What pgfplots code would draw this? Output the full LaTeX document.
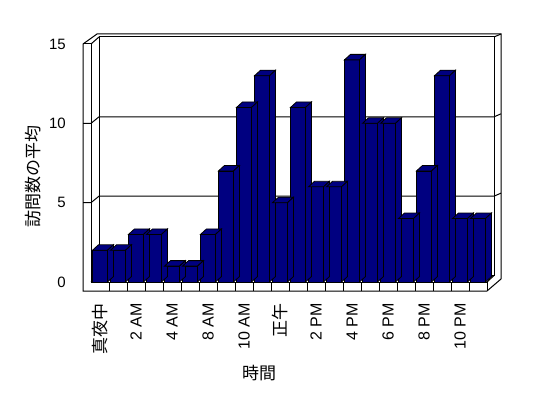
\documentclass[border=0pt]{standalone}
\usepackage{fontspec}
\setmainfont{Liberation Sans}
\newfontfamily\jp{Noto Sans CJK JP}
\usepackage{pgfplots}
\pgfplotsset{compat=1.18}
\definecolor{navy}{RGB}{0,0,128}
\pgfplotstableread{
x h
0 2
1 2
2 3
3 3
4 1
5 1
6 3
7 7
8 11
9 13
10 5
11 11
12 6
13 6
14 14
15 10
16 10
17 4
18 7
19 13
20 4
21 4
}\visits
\pgfdeclareplotmark{bar3d}{%
  \pgfmathsetmacro\H{\barh*15.8667}%
  \pgfpathmoveto{\pgfpoint{-7.5bp}{0bp}}%
  \pgfpathlineto{\pgfpoint{7.5bp}{0bp}}%
  \pgfpathlineto{\pgfpoint{13.5bp}{5.5bp}}%
  \pgfpathlineto{\pgfpoint{-1.5bp}{5.5bp}}%
  \pgfpathclose
  \pgfusepathqfillstroke
  \pgfpathmoveto{\pgfpoint{7.5bp}{0bp}}%
  \pgfpathlineto{\pgfpoint{13.5bp}{5.5bp}}%
  \pgfpathlineto{\pgfpoint{13.5bp}{5.5bp-\H bp}}%
  \pgfpathlineto{\pgfpoint{7.5bp}{-\H bp}}%
  \pgfpathclose
  \pgfusepathqfillstroke
}
\begin{document}
\begin{tikzpicture}
\useasboundingbox (-91bp,-116bp) rectangle (457bp,282bp);
\begin{scope}[x=1bp,y=1bp,line width=1bp]
\draw[fill=white] (-8,-9) -- (-8,238) -- (6,248) -- (410,248) -- (410,3) -- (396,-9) -- cycle;
\draw (-8,238) -- (0,238) -- (0,0);
\draw (0,238) -- (8,245);
\draw (8,6.5) -- (8,245) -- (403,245) -- (403,6.5);
\draw (403,245) -- (410,248);
\draw (0,0) -- (396,0) -- (396,-9);
\draw (0,0) -- (8,6.5) -- (403,6.5);
\draw (396,0) -- (403,6.5);
\foreach \k in {1,...,21} \draw (18*\k,-9) -- (18*\k,0);
\foreach \v in {5,10} {
  \draw (-8,\v*15.8667) -- (0,\v*15.8667) -- (8,\v*15.8667+6.5) -- (403,\v*15.8667+6.5) -- (410,\v*15.8667+9.5);
}
\end{scope}
\begin{axis}[
  at={(0,0)}, anchor=south west,
  x=18bp, y=15.8667bp,
  xmin=-0.5, xmax=21.5, ymin=0, ymax=15,
  clip=false,
  axis line style={draw=none},
  major tick style={draw=none},
  ytick={0,5,10,15},
  xtick={0,2,...,20},
  xticklabels={{\jp\fontsize{17bp}{20bp}\selectfont 真夜中},2 AM,4 AM,8 AM,10 AM,{\jp\fontsize{17bp}{20bp}\selectfont 正午},2 PM,4 PM,6 PM,8 PM,10 PM},
  yticklabel style={anchor=east, inner sep=0pt, font=\fontsize{15bp}{18bp}\selectfont},
  /pgf/number format/assume math mode=true,
  yticklabel shift=25bp,
  xticklabel style={rotate=90, anchor=east, inner sep=0pt, font=\fontsize{16bp}{19bp}\selectfont},
  xticklabel shift=21bp,
]
\addplot[scatter, only marks, mark=bar3d, line width=0.8bp,
  visualization depends on={rawy \as \barh},
  scatter/@pre marker code/.code={\pgfscope\pgfsetfillcolor{navy}\pgfsetstrokecolor{black}},
  scatter/@post marker code/.code={\endpgfscope}]
  table[x=x,y=h] {\visits};
\addplot[ybar, bar width=15bp, bar shift=0pt, fill=navy, draw=black, line width=0.8bp]
  table[x=x,y=h] {\visits};
\end{axis}
\node[font=\jp\fontsize{17bp}{20bp}\selectfont] at (168bp,-91bp) {時間};
\node[font=\jp\fontsize{17bp}{20bp}\selectfont, rotate=90] at (-57.5bp,105bp) {訪問数の平均};
\end{tikzpicture}
\end{document}
